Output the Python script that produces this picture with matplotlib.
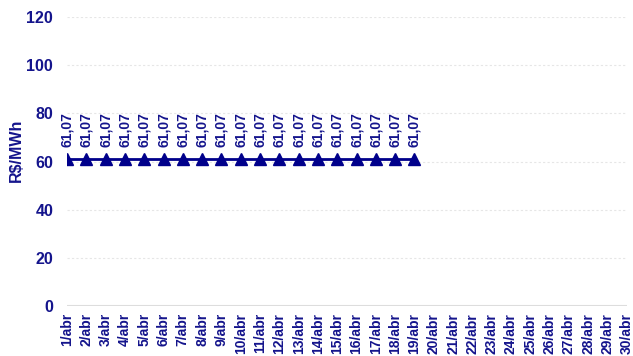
import numpy as np
import matplotlib.pyplot as plt

plt.rcParams['font.family'] = ['Liberation Sans', 'DejaVu Sans']

dias = [f"{d}/abr" for d in range(1, 31)]
precos = [61.07] * 19  # 1/abr a 19/abr
yticks = [0, 20, 40, 60, 80, 100, 120]

cor_txt = '#14148c'
cor_linha = '#00008b'

fig = plt.figure(figsize=(6.33, 3.56), dpi=100)
ax = fig.add_axes([0.106, 0.14, 0.884, 0.812])

x = np.arange(len(precos))
ax.plot(x, precos, color=cor_linha, lw=2, marker='^', ms=8, zorder=3)
for xi, v in zip(x, precos):
    ax.annotate(f"{v:.2f}".replace('.', ','), (xi, v), xytext=(0, 9),
                textcoords='offset points', rotation=90, ha='center', va='bottom',
                fontsize=10, fontweight='bold', color=cor_txt)

ax.set_xlim(0, len(dias) - 1)
ax.set_ylim(0, 120)
ax.set_xticks(np.arange(len(dias)))
ax.set_xticklabels(dias, rotation=90, fontsize=10, fontweight='bold', color=cor_txt)
ax.set_yticks(yticks)
ax.set_yticklabels([str(t) for t in yticks], fontsize=11.5, fontweight='bold', color=cor_txt)
ax.tick_params(length=0, pad=5)
ax.tick_params(axis='y', pad=10)

for t in yticks[1:]:
    ax.axhline(t, color='#e6e6e6', lw=0.8, ls=(0, (2, 2)), zorder=0)
ax.axhline(0, color='#dddddd', lw=1.5, zorder=1)

for s in ax.spines.values():
    s.set_visible(False)

ax.set_ylabel("R$/MWh", fontsize=11.5, fontweight='bold', color=cor_txt)
ax.yaxis.set_label_coords(-0.078, 0.54)

plt.savefig("out.png", dpi=100)
